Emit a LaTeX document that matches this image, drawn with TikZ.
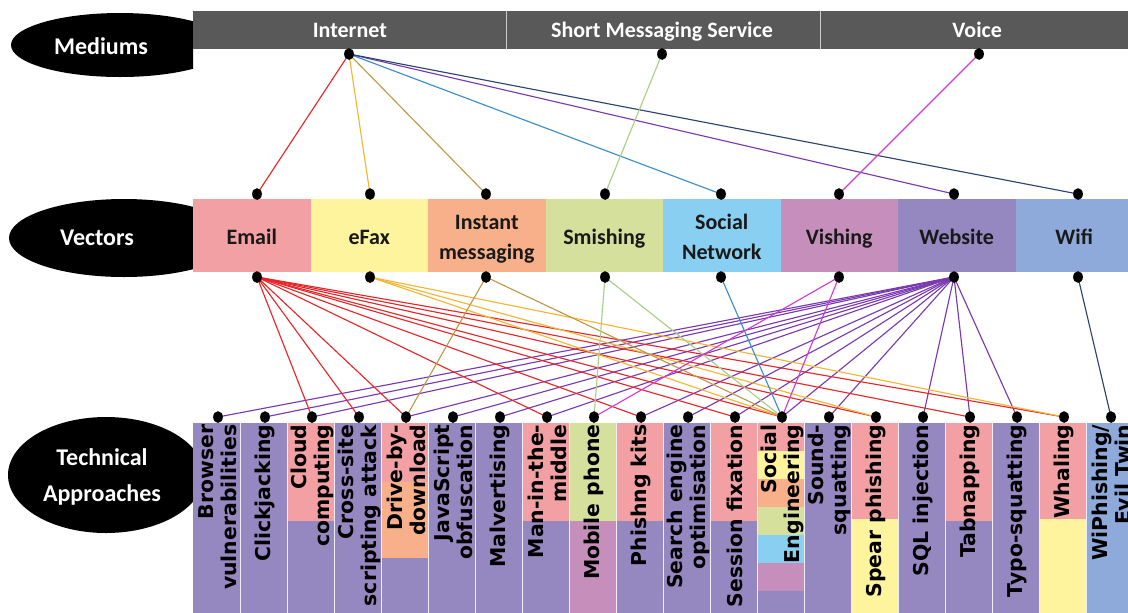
\documentclass[tikz,border=0pt]{standalone}
\usepackage{fontspec}
\usetikzlibrary{shapes.geometric,backgrounds}
\newfontfamily\labfont{Carlito}
\newfontfamily\techfont{DejaVu Sans}
% box fills
\definecolor{cEmail}{HTML}{F2A0A4}
\definecolor{cFax}{HTML}{FEF49E}
\definecolor{cIM}{HTML}{F7B089}
\definecolor{cSmish}{HTML}{D5E09C}
\definecolor{cSocial}{HTML}{89CFF1}
\definecolor{cVish}{HTML}{C68FBB}
\definecolor{cWeb}{HTML}{9587BF}
\definecolor{cWifi}{HTML}{8EAADB}
\definecolor{cBar}{HTML}{595959}
% link colours
\definecolor{lRed}{HTML}{E8262A}
\definecolor{lFax}{HTML}{F4B532}
\definecolor{lIM}{HTML}{BE9A48}
\definecolor{lSmish}{HTML}{A8CF86}
\definecolor{lSocial}{HTML}{3A8CCB}
\definecolor{lVish}{HTML}{D23BD0}
\definecolor{lWeb}{HTML}{7A3AAE}
\definecolor{lWifi}{HTML}{2C4470}
\newcommand\colband[4]{\fill[#2] ({193+47*(#1-1)},#3) rectangle ({193+47*#1},#4);}
\newcommand\strutline[1]{\vphantom{Alg}#1}
\begin{document}
\begin{tikzpicture}[x=0.75pt,y=-0.75pt,
  blob/.style={ellipse,fill=black,inner sep=0pt},
  elllabel/.style={text=white,align=center,inner sep=0pt,
    font=\labfont\bfseries\fontsize{18}{27.5}\selectfont},
  medbox/.style={rectangle,fill=cBar,inner sep=0pt,
    minimum width=313.67*0.75pt,minimum height=38*0.75pt},
  medlabel/.style={text=white,inner sep=0pt,
    font=\labfont\bfseries\fontsize{16.5}{19.8}\selectfont},
  vecbox/.style={rectangle,inner sep=0pt,
    minimum width=117.5*0.75pt,minimum height=73*0.75pt},
  veclabel/.style={inner sep=0pt,align=center,text=black!90,
    font=\labfont\bfseries\fontsize{16.5}{23}\selectfont},
  tcol/.style={rectangle,inner sep=0pt,minimum width=47*0.75pt,minimum height=200*0.75pt},
  tlabel/.style={rotate=90,anchor=east,align=right,inner sep=1pt,
    font=\techfont\bfseries\fontsize{15.3}{17.3}\selectfont},
  divider/.style={draw=white!70!cBar,line width=0.8pt},
  sep/.style={draw=white!85!cWeb,line width=0.6pt},
  dot/.style={ellipse,fill=black,inner sep=0pt,minimum width=7.3pt,minimum height=8.8pt},
  lk/.style={line width=0.85pt}]
\useasboundingbox (0,0) rectangle (1128,612);
\clip (0,0) rectangle (1128,612);

% row headings, cut flat where the rows begin
\begin{scope}
  \clip (0,0) rectangle (193,612);
  \node[blob,minimum width=218*0.75pt,minimum height=64*0.75pt] (medShape) at (120,45) {};
  \node[blob,minimum width=230*0.75pt,minimum height=78*0.75pt] (vecShape) at (124,238) {};
  \node[blob,minimum width=196*0.75pt,minimum height=116*0.75pt] (techShape) at (106,475) {};
\end{scope}
\node[elllabel] (mediums) at (101,46) {Mediums};
\node[elllabel] (vectors) at (97,238) {Vectors};
\node[elllabel] (technical) at (102,477) {Technical\\Approaches};

% mediums
\node[medbox] (internet) at (349.83,30) {};
\node[medbox] (sms) at (663.5,30) {};
\node[medbox] (voice) at (977.17,30) {};
\node[medlabel] (internet-l) at (349.83,31.5) {\strutline{Internet}};
\node[medlabel] (sms-l) at (662,31.5) {\strutline{Short Messaging Service}};
\node[medlabel] (voice-l) at (977.17,31.5) {\strutline{Voice}};
\draw[divider] (internet.north east) -- (internet.south east);
\draw[divider] (sms.north east) -- (sms.south east);

% vectors
\foreach \n/\x/\c/\txt in {email/251.75/cEmail/{\strutline{Email}},efax/369.25/cFax/{\strutline{eFax}},
  im/486.75/cIM/{\strutline{Instant}\\\strutline{messaging}},smish/604.25/cSmish/{\strutline{Smishing}},
  social/721.75/cSocial/{\strutline{Social}\\\strutline{Network}},vish/839.25/cVish/{\strutline{Vishing}},
  web/956.75/cWeb/{\strutline{Website}},wifi/1074.25/cWifi/{\strutline{Wifi}}}{
  \node[vecbox,fill=\c] (\n) at (\x,235.5) {};
  \node[veclabel] (\n-l) at (\x,238.5) {\txt};
}

% technical approach columns
\foreach \i/\base in {1/cWeb,2/cWeb,3/cWeb,4/cWeb,5/cWeb,6/cWeb,7/cWeb,8/cWeb,9/cVish,10/cWeb,
  11/cWeb,12/cWeb,13/cWeb,14/cWeb,15/cFax,16/cWeb,17/cWeb,18/cWeb,19/cFax,20/cWifi}
  \node[tcol,fill=\base] (col\i) at ({216.5+47*(\i-1)},523) {};
\colband{3}{cEmail}{423}{521}
\colband{5}{cEmail}{423}{482}
\colband{5}{cIM}{482}{558}
\colband{8}{cEmail}{423}{521}
\colband{9}{cSmish}{423}{521}
\colband{10}{cEmail}{423}{521}
\colband{12}{cEmail}{423}{521}
\colband{13}{cEmail}{423}{451}
\colband{13}{cFax}{451}{479}
\colband{13}{cIM}{479}{507}
\colband{13}{cSmish}{507}{535}
\colband{13}{cSocial}{535}{563}
\colband{13}{cVish}{563}{591}
\colband{15}{cEmail}{423}{519}
\colband{17}{cEmail}{423}{521}
\colband{19}{cEmail}{423}{519}
\foreach \i in {1,...,19}
  \draw[sep] (col\i.north east) -- (col\i.south east);

\foreach \i/\txt in {1/{Browser\\vulnerabilities},2/{Clickjacking},3/{Cloud\\computing},
  4/{Cross-site\\scripting attack},5/{Drive-by-\\download},6/{JavaScript\\obfuscation},
  7/{Malvertising},8/{Man-in-the-\\middle},9/{Mobile phone},10/{Phishng kits},
  11/{Search engine\\optimisation},12/{Session fixation},13/{Social\\Engineering},
  14/{Sound-\\squatting},15/{Spear phishing},16/{SQL injection},17/{Tabnapping},
  18/{Typo-squatting},19/{Whaling},20/{WiPhishing/\\Evil Twin}}
  \node[tlabel] (lab\i) at ({218+47*(\i-1)},423) {\txt};

% connection points
\node[dot] (int-d) at (349,54) {};
\node[dot] (sms-d) at (662,54) {};
\node[dot] (voice-d) at (979,54) {};
\foreach \n/\x in {email/257,efax/370,im/486,smish/605,social/721,vish/839,web/954,wifi/1078}{
  \node[dot] (\n-t) at (\x,194) {};
  \node[dot] (\n-b) at (\x,277) {};
}
\foreach \i in {1,...,20}
  \node[dot] (p\i) at ({218+47*(\i-1)},417) {};

% links
\begin{scope}[on background layer]
  \draw[lk,lRed] (int-d.center) -- (email-t.center);
  \draw[lk,lFax] (int-d.center) -- (efax-t.center);
  \draw[lk,lIM] (int-d.center) -- (im-t.center);
  \draw[lk,lSocial] (int-d.center) -- (social-t.center);
  \draw[lk,lWeb] (int-d.center) -- (web-t.center);
  \draw[lk,lWifi] (int-d.center) -- (wifi-t.center);
  \draw[lk,lSmish] (sms-d.center) -- (smish-t.center);
  \draw[lk,lVish] (voice-d.center) -- (vish-t.center);
  \foreach \t in {1,2,3,5,6,7,8,10,11,12,13,14,16,17,18}
    \draw[lk,lWeb] (web-b.center) -- (p\t.center);
  \foreach \t in {3,4,5,8,10,12,13,15,17,19}
    \draw[lk,lRed] (email-b.center) -- (p\t.center);
  \foreach \t in {13,15,19}
    \draw[lk,lFax] (efax-b.center) -- (p\t.center);
  \foreach \t in {5,13}
    \draw[lk,lIM] (im-b.center) -- (p\t.center);
  \foreach \t in {9,13}
    \draw[lk,lSmish] (smish-b.center) -- (p\t.center);
  \draw[lk,lSocial] (social-b.center) -- (p13.center);
  \foreach \t in {9,13}
    \draw[lk,lVish] (vish-b.center) -- (p\t.center);
  \draw[lk,lWifi] (wifi-b.center) -- (p20.center);
\end{scope}
\end{tikzpicture}
\end{document}
